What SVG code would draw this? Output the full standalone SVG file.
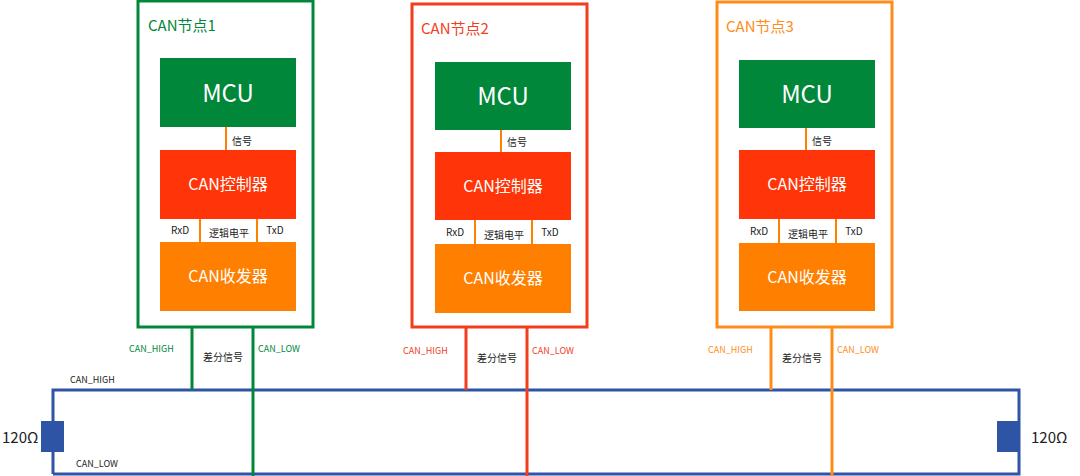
<svg xmlns="http://www.w3.org/2000/svg" width="1080" height="476" viewBox="0 0 1080 476">
<style>
text{font-family:"Noto Sans CJK SC","Liberation Sans",sans-serif}
.mcu{fill:#00873A}.ctl{fill:#FF3408}.trx{fill:#FF8000}
.big{fill:#fff;font-size:24px;text-anchor:middle}
.mid{fill:#fff;font-size:16px;text-anchor:middle}
.sm{fill:#222;font-size:10px;text-anchor:middle}
.bus{stroke:#2E55A5;stroke-width:3;fill:none}
.title{font-size:15px}
</style>
<rect width="1080" height="476" fill="#fff"/>
<g id="node1">
<rect x="138" y="1" width="175" height="326" fill="none" stroke="#00873A" stroke-width="3"/>
<text x="148" y="31" class="title" fill="#00873A">CAN节点1</text>
<rect class="mcu" x="160" y="58" width="136" height="69"/><text class="big" x="228" y="102">MCU</text>
<line x1="226" y1="127" x2="226" y2="150" stroke="#FF8000" stroke-width="2"/><text class="sm" x="242" y="145">信号</text>
<rect class="ctl" x="160" y="150" width="136" height="69"/><text class="mid" x="228" y="190">CAN控制器</text>
<line x1="200" y1="219" x2="200" y2="242" stroke="#FF8000" stroke-width="2"/><line x1="257" y1="219" x2="257" y2="242" stroke="#FF8000" stroke-width="2"/>
<text class="sm" x="180" y="234">RxD</text><text class="sm" x="229" y="237">逻辑电平</text><text class="sm" x="275" y="234">TxD</text>
<rect class="trx" x="160" y="242" width="136" height="69"/><text class="mid" x="228" y="282">CAN收发器</text>
</g>
<g id="node2">
<rect x="412" y="4" width="175" height="323" fill="none" stroke="#F23D1E" stroke-width="3"/>
<text x="421" y="34" class="title" fill="#F23D1E">CAN节点2</text>
<rect class="mcu" x="435" y="62" width="136" height="68"/><text class="big" x="503" y="105">MCU</text>
<line x1="501" y1="130" x2="501" y2="152" stroke="#FF8000" stroke-width="2"/><text class="sm" x="517" y="146">信号</text>
<rect class="ctl" x="435" y="152" width="136" height="68"/><text class="mid" x="503" y="192">CAN控制器</text>
<line x1="475" y1="220" x2="475" y2="244" stroke="#FF8000" stroke-width="2"/><line x1="532" y1="220" x2="532" y2="244" stroke="#FF8000" stroke-width="2"/>
<text class="sm" x="455" y="236">RxD</text><text class="sm" x="504" y="239">逻辑电平</text><text class="sm" x="550" y="236">TxD</text>
<rect class="trx" x="435" y="244" width="136" height="69"/><text class="mid" x="503" y="284">CAN收发器</text>
</g>
<g id="node3">
<rect x="717" y="2" width="175" height="325" fill="none" stroke="#FF8C1A" stroke-width="3"/>
<text x="726" y="32" class="title" fill="#FF8C1A">CAN节点3</text>
<rect class="mcu" x="739" y="60" width="136" height="68"/><text class="big" x="807" y="103">MCU</text>
<line x1="806" y1="128" x2="806" y2="150" stroke="#FF8000" stroke-width="2"/><text class="sm" x="822" y="145">信号</text>
<rect class="ctl" x="739" y="150" width="136" height="69"/><text class="mid" x="807" y="190">CAN控制器</text>
<line x1="779" y1="219" x2="779" y2="243" stroke="#FF8000" stroke-width="2"/><line x1="836" y1="219" x2="836" y2="243" stroke="#FF8000" stroke-width="2"/>
<text class="sm" x="759" y="235">RxD</text><text class="sm" x="808" y="238">逻辑电平</text><text class="sm" x="854" y="235">TxD</text>
<rect class="trx" x="739" y="243" width="136" height="68"/><text class="mid" x="807" y="283">CAN收发器</text>
</g>
<g id="bus">
<path class="bus" d="M53 474 V390 H1019 V474 H53"/>
<rect x="41" y="421" width="23" height="31" fill="#2E55A5"/>
<rect x="997" y="421" width="23" height="31" fill="#2E55A5"/>
<text x="2" y="443" font-size="15" fill="#222">120Ω</text>
<text x="1031" y="443" font-size="15" fill="#222">120Ω</text>
<text x="70" y="383" font-size="9" fill="#222">CAN_HIGH</text>
<text x="76" y="467" font-size="9" fill="#222">CAN_LOW</text>
</g>
<g id="connectors" stroke-width="3">
<line x1="192" y1="327" x2="192" y2="390" stroke="#00873A"/>
<line x1="253" y1="327" x2="253" y2="476" stroke="#00873A"/>
<line x1="466" y1="327" x2="466" y2="390" stroke="#F23D1E"/>
<line x1="527" y1="327" x2="527" y2="476" stroke="#F23D1E"/>
<line x1="771" y1="327" x2="771" y2="390" stroke="#FF8C1A"/>
<line x1="832" y1="327" x2="832" y2="476" stroke="#FF8C1A"/>
</g>
<g font-size="9">
<text x="129" y="352" fill="#00873A">CAN_HIGH</text><text x="258" y="352" fill="#00873A">CAN_LOW</text>
<text x="403" y="354" fill="#F23D1E">CAN_HIGH</text><text x="532" y="354" fill="#F23D1E">CAN_LOW</text>
<text x="708" y="353" fill="#FF8C1A">CAN_HIGH</text><text x="837" y="353" fill="#FF8C1A">CAN_LOW</text>
</g>
<g font-size="10" fill="#222" text-anchor="middle">
<text x="223" y="361">差分信号</text><text x="497" y="362">差分信号</text><text x="802" y="362">差分信号</text>
</g>
</svg>
